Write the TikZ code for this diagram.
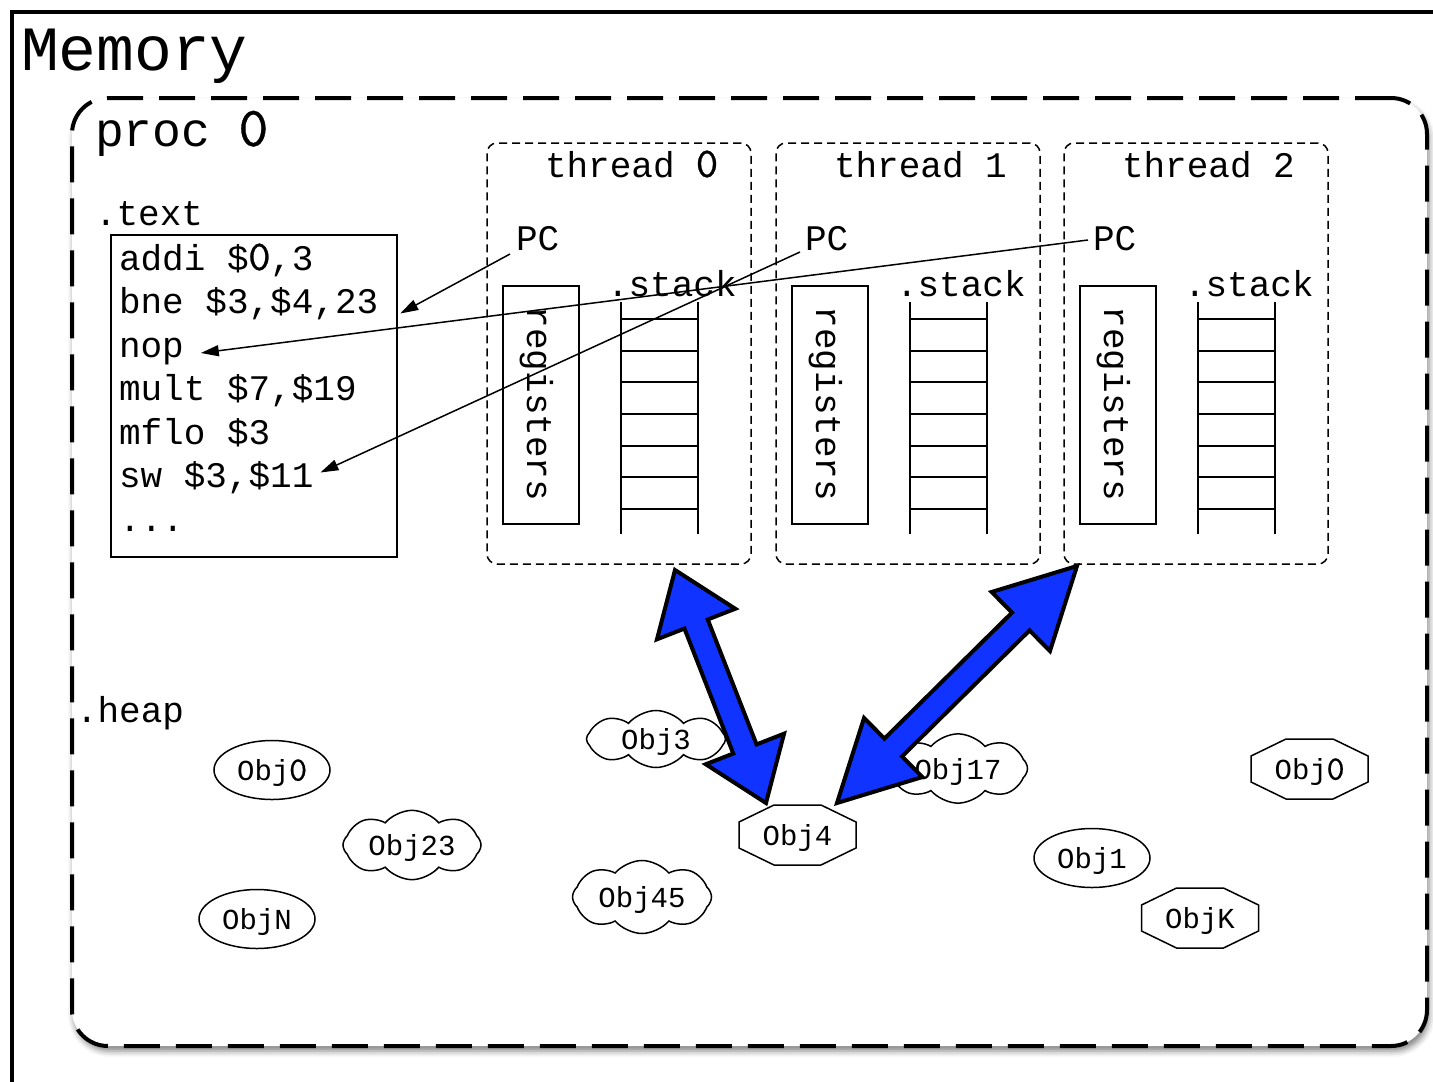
\documentclass[tikz,border=0pt]{standalone}
\usepackage{fontspec}
\setmainfont{Liberation Mono}
\newfontfamily\zerofont[Scale=1.18,FakeBold=0.6]{lmmono10-regular.otf}
\usetikzlibrary{calc,shapes.symbols,shapes.geometric,shadows.blur,arrows.meta}

\definecolor{fatblue}{RGB}{17,51,255}

% plain (undotted) zero in a cell as wide as the main font's characters
\newcommand\zr{\makebox[0.6em]{\zerofont 0}}

% double-headed fat arrow: start, end, head length, head half width, shaft half width
\newcommand\fatarrow[5]{%
  \path ($(#1)!#3!(#2)$) coordinate (fa-a) ($(#2)!#3!(#1)$) coordinate (fa-b);
  \draw[fatline] (#1) -- ($(fa-a)!#4!90:(#2)$) -- ($(fa-a)!#5!90:(#2)$)
    -- ($(fa-b)!#5!-90:(#1)$) -- ($(fa-b)!#4!-90:(#1)$) -- (#2)
    -- ($(fa-b)!#4!90:(#1)$) -- ($(fa-b)!#5!90:(#1)$)
    -- ($(fa-a)!#5!-90:(#2)$) -- ($(fa-a)!#4!-90:(#2)$) -- cycle;
}
% octagonal outline around a named node, with its label
\newcommand\octoutline[2]{%
  \draw[objline, fill=white] ($(#1.north west)+(35,0)$) -- ($(#1.north east)+(-35,0)$)
    -- ($(#1.east)+(0,-13)$) -- ($(#1.east)+(0,13)$)
    -- ($(#1.south east)+(-35,0)$) -- ($(#1.south west)+(35,0)$)
    -- ($(#1.west)+(0,13)$) -- ($(#1.west)+(0,-13)$) -- cycle;
  \node[objtxt] (#1-label) at (#1.center) {#2};
}

\begin{document}
\begin{tikzpicture}[x=1pt,y=-1pt,
  every node/.style={inner sep=0pt, outer sep=0pt},
  txt/.style={font=\fontsize{36}{43.5}\selectfont, anchor=base west},
  objtxt/.style={font=\fontsize{29}{34}\selectfont, text depth=0pt},
  thinline/.style={line width=1.5pt},
  objline/.style={line width=1.5pt},
  ladder/.style={line width=2pt},
  procbox/.style={draw, fill=white, line width=4pt, dash pattern=on 36pt off 16pt,
    rounded corners=36pt,
    blur shadow={shadow xshift=2pt, shadow yshift=-5pt, shadow blur radius=6pt, shadow opacity=50}},
  threadbox/.style={draw, line width=1.5pt, dash pattern=on 8pt off 5pt, rounded corners=10pt},
  regbox/.style={draw, thinline, minimum width=76pt, minimum height=238pt},
  ellobj/.style={ellipse, draw, objline, fill=white, minimum width=116pt, minimum height=59pt, objtxt},
  cloudobj/.style={cloud, draw, objline, fill=white, cloud puffs=8, cloud puff arc=100,
    aspect=2.4, minimum width=139pt, minimum height=57pt, objtxt},
  octobj/.style={minimum width=117pt, minimum height=60pt},
  fatline/.style={draw=black, fill=fatblue, line width=4pt, line join=miter},
  pcarrow/.style={thinline, -{Triangle[length=18pt,width=11pt]}}
]
\useasboundingbox (0,0) rectangle (1433,1082);

% memory frame
\draw[line width=4pt] (12,1200) -- (12,12) -- (1500,12);
\node[txt, font=\fontsize{63}{63}\selectfont] (memlbl) at (21,70) {Memory};

% process box
\node[procbox, minimum width=1355pt, minimum height=948pt] (proc) at (749.5,572) {};
\node[txt, font=\fontsize{48}{48}\selectfont] (proclbl) at (95,146) {proc \zr};

% text segment
\node[txt] (textlbl) at (95,225) {.text};
\node[draw, thinline, minimum width=286pt, minimum height=322pt] (code) at (254,396) {};
\node[txt] (c1) at (119,270)   {addi \$\zr,3};
\node[txt] (c2) at (119,313.5) {bne \$3,\$4,23};
\node[txt] (c3) at (119,357)   {nop};
\node[txt] (c4) at (119,400.5) {mult \$7,\$19};
\node[txt] (c5) at (119,444)   {mflo \$3};
\node[txt] (c6) at (119,487.5) {sw \$3,\$11};
\node[txt] (c7) at (119,531)   {...};

% threads
\foreach \k/\L/\n in {0/487/\zr,1/776/1,2/1064/2} {
  \node[threadbox, minimum width=264pt, minimum height=421pt] (t\k) at (\L+132,353.5) {};
  \node[txt] (tt\k) at (\L+58,177) {thread \n};
  \node[txt] (pc\k) at (\L+29,250) {PC};
  \node[regbox] (reg\k) at (\L+54,405) {};
  \node[font=\fontsize{36}{36}\selectfont, anchor=base, rotate=-90] (regt\k) at (\L+40,404) {registers};
  \node[txt] (stk\k) at (\L+120,296) {.stack};
  \draw[ladder] (\L+134,302) -- (\L+134,534);
  \draw[ladder] (\L+211,302) -- (\L+211,534);
  \foreach \i in {0,...,6}
    \draw[ladder] (\L+134,319+31.67*\i) -- (\L+211,319+31.67*\i);
}

% heap
\node[txt] (heaplbl) at (76,722) {.heap};
\node[ellobj] (h0) at (272,770) {Obj\zr};
\node[cloudobj, minimum width=138pt, minimum height=56pt] (h23) at (412,845) {Obj23};
\node[ellobj] (hN) at (257,919) {ObjN};
\node[cloudobj] (h3) at (656,739) {Obj3};
\node[cloudobj] (h17) at (958,768.5) {Obj17};
\node[cloudobj, minimum height=73pt] (h45) at (642,897) {Obj45};
\node[ellobj] (h1) at (1092,858) {Obj1};
\node[octobj] (obj4) at (797.5,835) {};
\node[octobj] (h0b) at (1309.5,769) {};
\node[octobj] (hK) at (1200,918) {};
\octoutline{obj4}{Obj4}
\octoutline{h0b}{Obj\zr}
\octoutline{hK}{ObjK}

% thread <-> heap object links
\coordinate (ar1a) at ($(t0.south)+(56,6)$);
\coordinate (ar1b) at ($(obj4.north west)+(27,-2)$);
\coordinate (ar2a) at ($(t2.south west)+(13,2)$);
\coordinate (ar2b) at ($(obj4.north east)+(-19,-2)$);
\fatarrow{ar1a}{ar1b}{58pt}{42pt}{12.5pt}
\fatarrow{ar2a}{ar2b}{79pt}{41.5pt}{12.5pt}

% program counters
\draw[pcarrow] ($(pc0.base west)+(-6,4)$) -- ($(c2.base east)+(22,0)$);
\draw[pcarrow] ($(pc1.base west)+(-5,2)$) -- ($(c6.base east)+(7,-15)$);
\draw[pcarrow] ($(pc2.base west)+(-5,-10)$) -- ($(c3.base east)+(17,-4)$);
\end{tikzpicture}
\end{document}
